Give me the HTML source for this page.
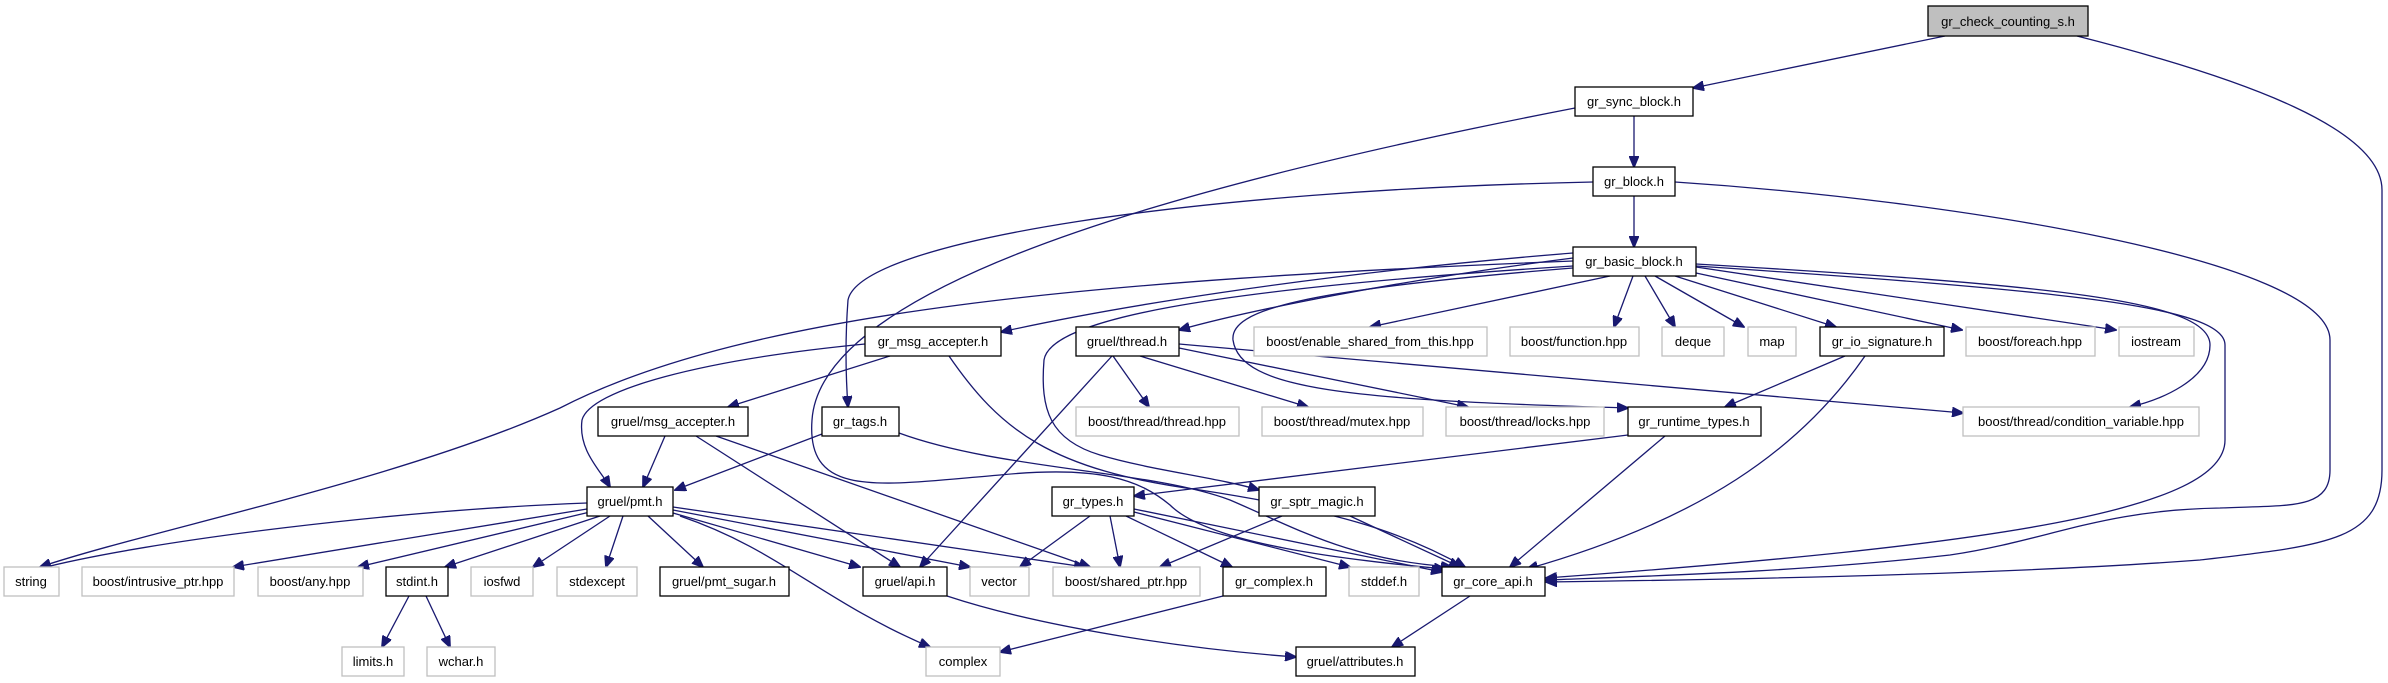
<!DOCTYPE html>
<html><head><meta charset="utf-8"><style>
html,body{margin:0;padding:0;background:#fff;}
svg{display:block;}
text{font-family:"Liberation Sans",sans-serif;font-size:13px;text-anchor:middle;fill:#000;}
.n rect{fill:#fff;stroke:#000;stroke-width:1.3;}
.x rect{fill:#fff;stroke:#bfbfbf;stroke-width:1.3;}
path{fill:none;stroke:#191970;stroke-width:1.3;}
</style></head><body>
<svg width="2388" height="683" viewBox="0 0 2388 683" xmlns="http://www.w3.org/2000/svg">
<defs><marker id="a" markerWidth="12" markerHeight="10" refX="11" refY="5" orient="auto" markerUnits="userSpaceOnUse"><path d="M0,0 L12,5 L0,10 Z" style="fill:#191970;stroke:#191970;stroke-width:1"/></marker></defs>
<g marker-end="url(#a)">
<path d="M1945,36 L1693,88"/>
<path d="M2077,36 C2250,80 2382,130 2382,190 L2382,470 C2382,540 2330,545 2200,560 C2000,575 1700,580 1546,582"/>
<path d="M1634,116 L1634,167"/>
<path d="M1575,108 C1100,200 820,300 812,420 C806,500 880,485 1000,475 C1100,465 1140,480 1170,505 C1210,545 1350,560 1445,569"/>
<path d="M1634,196 L1634,247"/>
<path d="M1593,182 C1200,190 860,240 848,300 C845,340 846,380 848,407"/>
<path d="M1675,182 C1950,200 2330,260 2330,340 L2330,470 C2330,510 2290,505 2220,508 C2100,510 2050,540 1950,555 C1800,572 1650,576 1546,580"/>
<path d="M1573,253 C1300,275 1100,310 1001,332"/>
<path d="M1573,258 C1400,280 1250,310 1179,330"/>
<path d="M1610,276 L1370,327"/>
<path d="M1633,276 L1614,327"/>
<path d="M1645,276 L1675,327"/>
<path d="M1655,276 L1744,327"/>
<path d="M1675,276 L1836,327"/>
<path d="M1696,273 L1962,330"/>
<path d="M1696,267 L2116,330"/>
<path d="M1696,264 C2050,285 2210,300 2210,345 C2210,380 2160,400 2130,407"/>
<path d="M1696,266 C2050,290 2225,305 2225,345 L2225,440 C2225,510 2000,545 1546,578"/>
<path d="M1573,268 C1300,290 1230,310 1233,340 C1240,390 1350,400 1628,408"/>
<path d="M1573,266 C1200,290 1050,320 1044,360 C1040,410 1050,440 1100,455 C1150,470 1220,478 1259,490"/>
<path d="M1573,261 C1100,280 750,310 560,408 C400,480 150,530 40,567"/>
<path d="M890,356 L728,407"/>
<path d="M949,356 C1000,430 1050,470 1200,490 C1330,510 1400,530 1465,567"/>
<path d="M865,344 C700,360 590,390 582,420 C578,450 600,470 610,487"/>
<path d="M1113,356 L1149,407"/>
<path d="M1140,356 L1308,407"/>
<path d="M1179,348 L1468,407"/>
<path d="M1179,344 L1963,413"/>
<path d="M1112,356 L920,567"/>
<path d="M665,436 L643,487"/>
<path d="M696,436 L900,567"/>
<path d="M716,436 L1090,567"/>
<path d="M822,434 L675,490"/>
<path d="M899,433 C1000,470 1150,470 1230,500 C1300,530 1350,560 1452,567"/>
<path d="M1628,435 L1134,496"/>
<path d="M1665,436 L1510,567"/>
<path d="M1845,356 L1725,407"/>
<path d="M1865,356 C1800,450 1700,520 1527,569"/>
<path d="M587,503 C400,510 150,540 38,569"/>
<path d="M587,509 L233,567"/>
<path d="M590,512 L358,567"/>
<path d="M600,516 L445,567"/>
<path d="M610,516 L533,567"/>
<path d="M623,516 L606,567"/>
<path d="M648,516 L703,567"/>
<path d="M673,513 L860,567"/>
<path d="M673,510 L970,567"/>
<path d="M673,507 L1085,567"/>
<path d="M680,516 C780,550 820,600 930,647"/>
<path d="M409,596 L382,647"/>
<path d="M426,596 L450,647"/>
<path d="M1090,516 L1020,567"/>
<path d="M1110,516 L1120,567"/>
<path d="M1126,516 L1232,567"/>
<path d="M1134,512 L1350,567"/>
<path d="M1134,509 L1442,572"/>
<path d="M1282,516 L1160,567"/>
<path d="M1350,516 L1460,567"/>
<path d="M1223,596 L1000,652"/>
<path d="M947,596 C1050,630 1200,650 1296,657"/>
<path d="M1470,596 L1392,647"/>
</g>
<g class="n">
<rect x="1928" y="6" width="160" height="30" style="fill:#bfbfbf"/><text x="2008" y="26">gr_check_counting_s.h</text>
<rect x="1575" y="87" width="118" height="29"/><text x="1634" y="106">gr_sync_block.h</text>
<rect x="1593" y="167" width="82" height="29"/><text x="1634" y="186">gr_block.h</text>
<rect x="1573" y="247" width="123" height="29"/><text x="1634" y="266">gr_basic_block.h</text>
<rect x="865" y="327" width="136" height="29"/><text x="933" y="346">gr_msg_accepter.h</text>
<rect x="1076" y="327" width="103" height="29"/><text x="1127" y="346">gruel/thread.h</text>
<rect x="1820" y="327" width="124" height="29"/><text x="1882" y="346">gr_io_signature.h</text>
<rect x="598" y="407" width="150" height="29"/><text x="673" y="426">gruel/msg_accepter.h</text>
<rect x="822" y="407" width="77" height="29"/><text x="860" y="426">gr_tags.h</text>
<rect x="1628" y="407" width="133" height="29"/><text x="1694" y="426">gr_runtime_types.h</text>
<rect x="587" y="487" width="86" height="29"/><text x="630" y="506">gruel/pmt.h</text>
<rect x="1052" y="487" width="82" height="29"/><text x="1093" y="506">gr_types.h</text>
<rect x="1259" y="487" width="116" height="29"/><text x="1317" y="506">gr_sptr_magic.h</text>
<rect x="386" y="567" width="62" height="29"/><text x="417" y="586">stdint.h</text>
<rect x="660" y="567" width="129" height="29"/><text x="724" y="586">gruel/pmt_sugar.h</text>
<rect x="863" y="567" width="84" height="29"/><text x="905" y="586">gruel/api.h</text>
<rect x="1223" y="567" width="103" height="29"/><text x="1274" y="586">gr_complex.h</text>
<rect x="1442" y="567" width="103" height="29"/><text x="1493" y="586">gr_core_api.h</text>
<rect x="1296" y="647" width="119" height="29"/><text x="1355" y="666">gruel/attributes.h</text>
</g>
<g class="x">
<rect x="1254" y="327" width="233" height="29"/><text x="1370" y="346">boost/enable_shared_from_this.hpp</text>
<rect x="1510" y="327" width="129" height="29"/><text x="1574" y="346">boost/function.hpp</text>
<rect x="1662" y="327" width="62" height="29"/><text x="1693" y="346">deque</text>
<rect x="1748" y="327" width="48" height="29"/><text x="1772" y="346">map</text>
<rect x="1966" y="327" width="129" height="29"/><text x="2030" y="346">boost/foreach.hpp</text>
<rect x="2119" y="327" width="75" height="29"/><text x="2156" y="346">iostream</text>
<rect x="1076" y="407" width="163" height="29"/><text x="1157" y="426">boost/thread/thread.hpp</text>
<rect x="1262" y="407" width="161" height="29"/><text x="1342" y="426">boost/thread/mutex.hpp</text>
<rect x="1446" y="407" width="158" height="29"/><text x="1525" y="426">boost/thread/locks.hpp</text>
<rect x="1963" y="407" width="236" height="29"/><text x="2081" y="426">boost/thread/condition_variable.hpp</text>
<rect x="4" y="567" width="55" height="29"/><text x="31" y="586">string</text>
<rect x="82" y="567" width="152" height="29"/><text x="158" y="586">boost/intrusive_ptr.hpp</text>
<rect x="258" y="567" width="105" height="29"/><text x="310" y="586">boost/any.hpp</text>
<rect x="471" y="567" width="62" height="29"/><text x="502" y="586">iosfwd</text>
<rect x="557" y="567" width="80" height="29"/><text x="597" y="586">stdexcept</text>
<rect x="970" y="567" width="59" height="29"/><text x="999" y="586">vector</text>
<rect x="1053" y="567" width="147" height="29"/><text x="1126" y="586">boost/shared_ptr.hpp</text>
<rect x="1349" y="567" width="70" height="29"/><text x="1384" y="586">stddef.h</text>
<rect x="342" y="647" width="62" height="29"/><text x="373" y="666">limits.h</text>
<rect x="427" y="647" width="68" height="29"/><text x="461" y="666">wchar.h</text>
<rect x="926" y="647" width="74" height="29"/><text x="963" y="666">complex</text>
</g>
</svg>
</body></html>
